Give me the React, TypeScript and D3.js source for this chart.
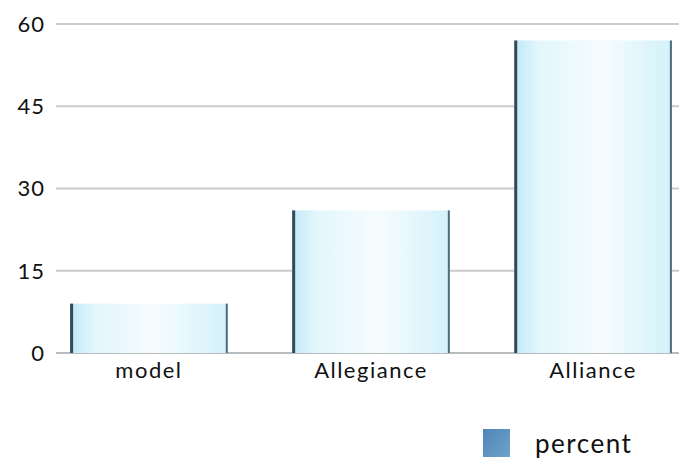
import React from "react";
import * as d3 from "d3";

const categories = ["model", "Allegiance", "Alliance"];
const percentValues = [9, 26, 57];
const yTicks = [0, 15, 30, 45, 60];
const seriesName = "percent";

const W = 679;
const H = 459;
const FONT = "Lato, 'Open Sans', sans-serif";

export default function App() {
  const x = d3
    .scaleBand<string>()
    .domain(categories)
    .range([59, 683])
    .paddingInner(0.29)
    .paddingOuter(0.05);
  const y = d3.scaleLinear().domain([0, 60]).range([353, 24]);

  return (
    <svg
      width={W}
      height={H}
      viewBox={`0 0 ${W} ${H}`}
      style={{ position: "absolute", left: 0, top: 0, background: "#fff" }}
    >
      <defs>
        <linearGradient id="barFill" x1="0" y1="0" x2="1" y2="0">
          <stop offset="0" stopColor="#bfe9f6" />
          <stop offset="0.15" stopColor="#e2f6fc" />
          <stop offset="0.55" stopColor="#f6fcfe" />
          <stop offset="1" stopColor="#d3f1fa" />
        </linearGradient>
        <linearGradient id="legendFill" x1="0" y1="0" x2="1" y2="1">
          <stop offset="0" stopColor="#4f86b8" />
          <stop offset="1" stopColor="#6ea2c9" />
        </linearGradient>
      </defs>

      {/* horizontal grid */}
      {yTicks.map((t) => (
        <line
          key={t}
          x1={56}
          x2={W}
          y1={y(t)}
          y2={y(t)}
          stroke={t === 0 ? "#b9bcbf" : "#c9cbcd"}
          strokeWidth={2}
        />
      ))}

      {/* y tick labels */}
      {yTicks.map((t) => (
        <text
          key={t}
          x={45}
          y={y(t)}
          dy="0.36em"
          textAnchor="end"
          fontFamily={FONT}
          fontSize={22}
          letterSpacing={1}
          fill="#111"
        >
          {t}
        </text>
      ))}

      {/* bars */}
      {categories.map((c, i) => {
        const x0 = x(c)!;
        const bw = x.bandwidth();
        const top = y(percentValues[i]);
        const bottom = y(0);
        return (
          <g key={c}>
            <rect
              x={x0}
              y={top}
              width={bw}
              height={bottom - top}
              fill="url(#barFill)"
            />
            <line
              x1={x0 + 1.5}
              x2={x0 + 1.5}
              y1={top}
              y2={bottom}
              stroke="#34495a"
              strokeWidth={3}
            />
            <line
              x1={x0 + bw - 1}
              x2={x0 + bw - 1}
              y1={top}
              y2={bottom}
              stroke="#4d6b7e"
              strokeWidth={2}
            />
          </g>
        );
      })}

      {/* category labels */}
      {categories.map((c) => (
        <text
          key={c}
          x={x(c)! + x.bandwidth() / 2}
          y={378}
          textAnchor="middle"
          fontFamily={FONT}
          fontSize={22}
          letterSpacing={1.5}
          fill="#111"
        >
          {c}
        </text>
      ))}

      {/* legend */}
      <rect x={483} y={429} width={27} height={28} fill="url(#legendFill)" />
      <text
        x={535}
        y={453}
        fontFamily={FONT}
        fontSize={26}
        letterSpacing={1.5}
        fill="#111"
      >
        {seriesName}
      </text>
    </svg>
  );
}
